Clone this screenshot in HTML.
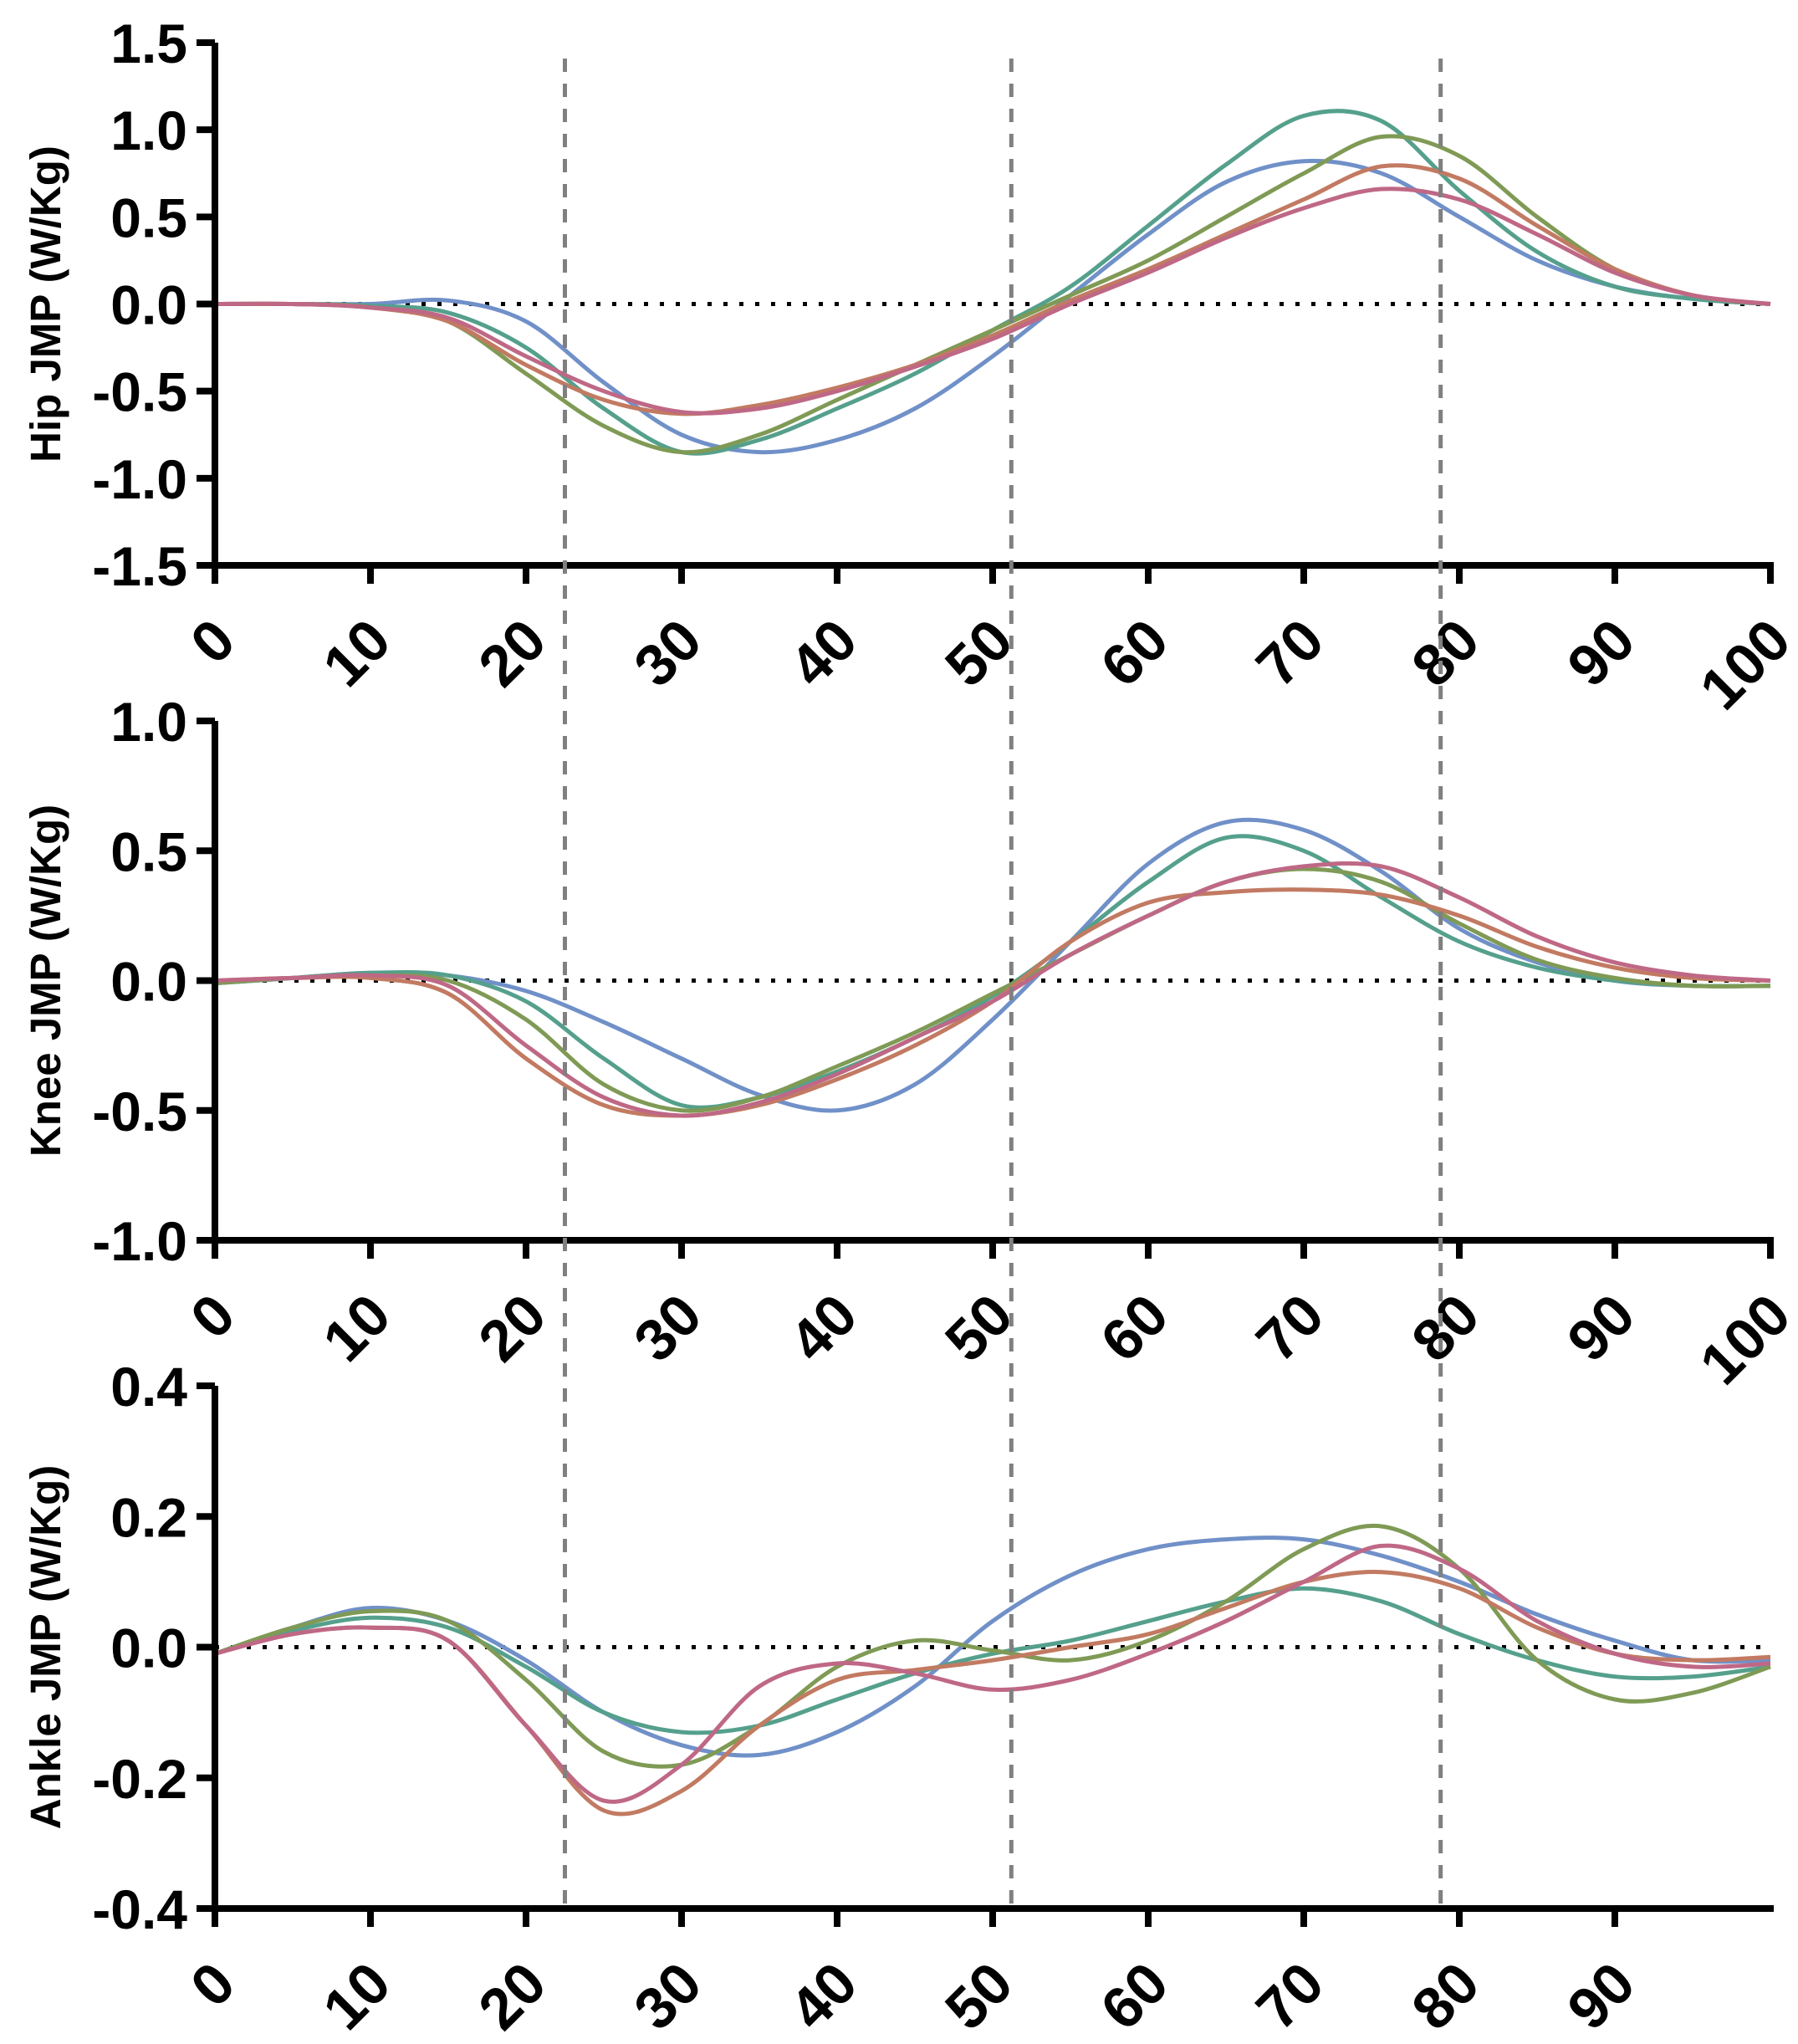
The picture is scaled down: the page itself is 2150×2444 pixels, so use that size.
<!DOCTYPE html>
<html><head><meta charset="utf-8"><style>
html,body{margin:0;padding:0;background:#fff;}
svg{display:block;}
text{font-family:"Liberation Sans",Arial,sans-serif;font-weight:bold;fill:#000;}
</style></head><body>
<svg id="chart" width="2150" height="2444" viewBox="0 0 2150 2444" xmlns="http://www.w3.org/2000/svg"></svg>
<script>
const xCats=[0,5,10,15,20,25,30,35,40,45,50,55,60,65,70,75,80,85,90,95,100];
const phaseLines=[22.5,51.2,78.8];
const seriesNames=["blue","teal","olive","orange","pink"];
const seriesColors=["#7090c8","#55a08c","#7f9a55","#c27a62","#bf6886"];
const hipBlue=[0,0,0,0.02,-0.1,-0.45,-0.75,-0.85,-0.78,-0.6,-0.3,0.05,0.4,0.7,0.82,0.75,0.5,0.25,0.1,0.03,0];
const hipTeal=[0,0,-0.01,-0.05,-0.25,-0.6,-0.85,-0.78,-0.6,-0.4,-0.15,0.1,0.45,0.8,1.08,1.05,0.65,0.3,0.1,0.03,0];
const hipOlive=[0,0,-0.02,-0.1,-0.4,-0.7,-0.85,-0.75,-0.55,-0.35,-0.15,0.05,0.25,0.5,0.75,0.96,0.85,0.5,0.2,0.05,0];
const hipOrange=[0,0,-0.02,-0.1,-0.35,-0.55,-0.63,-0.58,-0.48,-0.35,-0.18,0.02,0.2,0.4,0.6,0.79,0.72,0.45,0.2,0.05,0];
const hipPink=[0,0,-0.02,-0.08,-0.3,-0.5,-0.62,-0.6,-0.5,-0.36,-0.2,0,0.18,0.38,0.55,0.66,0.6,0.4,0.18,0.05,0];
const kneeBlue=[-0.01,0.01,0.03,0.02,-0.04,-0.16,-0.3,-0.44,-0.5,-0.4,-0.15,0.15,0.45,0.61,0.58,0.42,0.2,0.07,0,-0.02,-0.02];
const kneeTeal=[-0.01,0.01,0.03,0.02,-0.08,-0.3,-0.48,-0.45,-0.35,-0.22,-0.06,0.15,0.38,0.55,0.5,0.32,0.15,0.05,0,-0.02,-0.02];
const kneeOlive=[-0.01,0.01,0.02,0,-0.15,-0.4,-0.5,-0.45,-0.33,-0.2,-0.05,0.1,0.25,0.38,0.43,0.38,0.22,0.08,0.01,-0.02,-0.02];
const kneeOrange=[0,0.01,0.01,-0.05,-0.3,-0.48,-0.52,-0.48,-0.38,-0.25,-0.08,0.15,0.3,0.34,0.35,0.33,0.25,0.13,0.05,0.01,0];
const kneePink=[0,0.01,0.02,-0.02,-0.25,-0.45,-0.52,-0.47,-0.36,-0.22,-0.08,0.1,0.25,0.38,0.44,0.44,0.32,0.17,0.07,0.02,0];
const ankleBlue=[-0.01,0.03,0.06,0.04,-0.02,-0.1,-0.15,-0.165,-0.13,-0.06,0.04,0.11,0.15,0.165,0.165,0.14,0.1,0.05,0.01,-0.02,-0.02];
const ankleTeal=[-0.01,0.025,0.045,0.03,-0.03,-0.1,-0.13,-0.12,-0.08,-0.04,-0.01,0.01,0.04,0.07,0.09,0.07,0.02,-0.02,-0.045,-0.045,-0.03];
const ankleOlive=[-0.01,0.03,0.055,0.04,-0.05,-0.16,-0.18,-0.12,-0.03,0.01,-0.005,-0.02,0.01,0.07,0.15,0.185,0.12,-0.02,-0.08,-0.07,-0.03];
const ankleOrange=[-0.01,0.02,0.03,0.01,-0.12,-0.25,-0.22,-0.12,-0.05,-0.035,-0.02,0,0.02,0.06,0.1,0.115,0.09,0.03,-0.01,-0.02,-0.015];
const anklePink=[-0.01,0.02,0.03,0.01,-0.12,-0.235,-0.18,-0.06,-0.025,-0.04,-0.065,-0.05,-0.01,0.04,0.1,0.155,0.12,0.04,-0.01,-0.03,-0.025];
const hipTicks=["1.5","1.0","0.5","0.0","-0.5","-1.0","-1.5"];
const kneeTicks=["1.0","0.5","0.0","-0.5","-1.0"];
const ankleTicks=["0.4","0.2","0.0","-0.2","-0.4"];
const xTickLabels=["0","10","20","30","40","50","60","70","80","90","100"];

const NS="http://www.w3.org/2000/svg";
const svg=document.getElementById('chart');
function mk(tag,attrs,parent){const e=document.createElementNS(NS,tag);for(const k in attrs)e.setAttribute(k,attrs[k]);(parent||svg).appendChild(e);return e;}
const X0=257,X1=2117;
function xs(v){return X0+(X1-X0)*v/100;}
const panels=[
 {key:"hip",title:"Hip JMP (W/Kg)",top:51,bot:676,max:1.5,min:-1.5,ticks:hipTicks,series:[hipBlue,hipTeal,hipOlive,hipOrange,hipPink],xmax:100},
 {key:"knee",title:"Knee JMP (W/Kg)",top:862,bot:1483,max:1,min:-1,ticks:kneeTicks,series:[kneeBlue,kneeTeal,kneeOlive,kneeOrange,kneePink],xmax:100},
 {key:"ankle",title:"Ankle JMP (W/Kg)",top:1657,bot:2282,max:0.4,min:-0.4,ticks:ankleTicks,series:[ankleBlue,ankleTeal,ankleOlive,ankleOrange,anklePink],xmax:90}
];
function smoothPath(pts){
 let d="M"+pts[0][0].toFixed(1)+","+pts[0][1].toFixed(1);
 for(let i=0;i<pts.length-1;i++){
  const p0=pts[i-1]||pts[i],p1=pts[i],p2=pts[i+1],p3=pts[i+2]||p2;
  const c1=[p1[0]+(p2[0]-p0[0])/6,p1[1]+(p2[1]-p0[1])/6];
  const c2=[p2[0]-(p3[0]-p1[0])/6,p2[1]-(p3[1]-p1[1])/6];
  d+=" C"+c1[0].toFixed(1)+","+c1[1].toFixed(1)+" "+c2[0].toFixed(1)+","+c2[1].toFixed(1)+" "+p2[0].toFixed(1)+","+p2[1].toFixed(1);
 }
 return d;
}
panels.forEach(p=>{
 const g=mk('g',{});
 
 
 const ys=v=>p.bot-(v-p.min)/(p.max-p.min)*(p.bot-p.top);
 const z=mk('line',{x1:X0,x2:X1,y1:ys(0),y2:ys(0),stroke:"#000","stroke-width":5,"stroke-dasharray":"5 14"},g);
 
 
 p.series.forEach((arr,si)=>{
  const pts=arr.map((v,i)=>[xs(xCats[i]),ys(v)]);
  const path=mk('path',{d:smoothPath(pts),fill:"none",stroke:seriesColors[si],"stroke-width":5,"stroke-linejoin":"round"},g);
  
  
 });
 const ya=mk('line',{x1:X0,x2:X0,y1:p.top,y2:p.bot+4,stroke:"#000","stroke-width":8},g);
 
 
 const xa=mk('line',{x1:X0-4,x2:X1+4,y1:p.bot,y2:p.bot,stroke:"#000","stroke-width":8},g);
 
 
 const n=p.ticks.length;
 p.ticks.forEach((t,i)=>{
  const v=p.max-(p.max-p.min)*i/(n-1);
  const y=ys(v);
  mk('line',{x1:X0-22,x2:X0,y1:y,y2:y,stroke:"#000","stroke-width":8},g);
  const tx=mk('text',{x:224,y:y+24,"text-anchor":"end","font-size":66},g);
  tx.textContent=t;
  
  
 });
 xTickLabels.forEach((t,i)=>{
  const v=+t;
  if(v>p.xmax)return;
  const x=xs(v);
  mk('line',{x1:x,x2:x,y1:p.bot,y2:p.bot+22,stroke:"#000","stroke-width":8},g);
  const ax=x+28,ay=p.bot+94;
  const tx=mk('text',{x:ax,y:ay,"text-anchor":"end","font-size":70,transform:"rotate(-45 "+ax+" "+ay+")"},g);
  tx.textContent=t;
  
  
 });
 const cy=(p.top+p.bot)/2;
 const tt=mk('text',{x:72,y:cy,"text-anchor":"middle","font-size":51,transform:"rotate(-90 72 "+cy+")"},g);
 tt.textContent=p.title;
 
 
});
phaseLines.forEach(v=>{
 const l=mk('line',{x1:xs(v),x2:xs(v),y1:70,y2:2282,stroke:"#808080","stroke-width":5,"stroke-dasharray":"16 14"});
 
 
});
</script>
</body></html>
